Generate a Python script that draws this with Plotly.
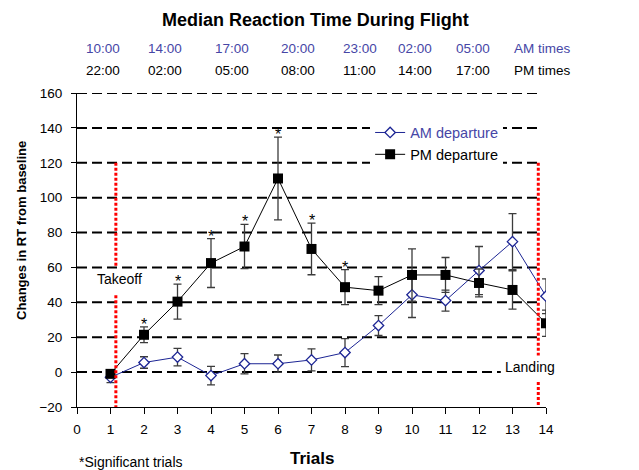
import plotly.graph_objects as go

# trial numbers and median RT change (ms) from baseline
trials = list(range(1, 15))
am_rt = [-3, 5.5, 8.6, -2, 4.8, 4.8, 7, 11.2, 26.7, 44.3, 41, 58.2, 74.8, 43.5]
am_err = [3, 3.3, 5, 5.3, 5.8, 5, 6.3, 8, 5.7, 13, 6, 13.8, 16, 10]
pm_rt = [-1, 21.4, 40.4, 62.5, 72, 111, 70.6, 48.7, 46.7, 55.7, 55.7, 51.1, 47.1, 28]
pm_err = [2, 4.5, 10, 14, 12.7, 23.7, 14.8, 10, 8, 15, 10, 8, 11, 7.5]
sig_trials = [2, 3, 4, 5, 6, 7, 8]

am_times = ["10:00", "14:00", "17:00", "20:00", "23:00", "02:00", "05:00", "AM times"]
pm_times = ["22:00", "02:00", "05:00", "08:00", "11:00", "14:00", "17:00", "PM times"]
time_label_x = [0.79, 2.63, 4.62, 6.60, 8.44, 10.08, 11.81, 13.9]

grid_values = [20, 40, 60, 80, 100, 120, 140, 160]

FONT = "Liberation Sans, Arial, sans-serif"
AM_LINE = "#1C2594"
AM_TEXT = "#4646A6"
ERR_COL = "#3c3c3c"

fig = go.Figure()

fig.add_trace(go.Scatter(
    x=trials, y=am_rt, mode="lines+markers",
    name='<span style="color:%s">AM departure</span>' % AM_TEXT,
    line=dict(color=AM_LINE, width=1),
    marker=dict(symbol="diamond", size=8, color="white", line=dict(color=AM_LINE, width=1.3)),
    error_y=dict(type="data", array=am_err, color=ERR_COL, thickness=1.3, width=4),
))
fig.add_trace(go.Scatter(
    x=trials, y=pm_rt, mode="lines+markers", name="PM departure",
    line=dict(color="black", width=1),
    marker=dict(symbol="square", size=10, color="black"),
    error_y=dict(type="data", array=pm_err, color=ERR_COL, thickness=1.3, width=4),
))

shapes = []
# dashed gridlines (drawn as shapes so they can stop short of the right edge)
for g in grid_values:
    shapes.append(dict(type="line", xref="x", yref="y", x0=0, x1=13.83, y0=g, y1=g,
                       line=dict(color="black", width=2, dash="10px,5px"), layer="below"))
shapes.append(dict(type="line", xref="x", yref="y", x0=0, x1=12.65, y0=0, y1=0,
                   line=dict(color="black", width=2, dash="10px,5px"), layer="below"))

# takeoff / landing markers
red = dict(color="#ff0000", width=3, dash="3px,2px")
for x0, segs in [(1.16, [(120, 60), (44, -20)]), (13.77, [(120, 9.5), (-5.7, -20)])]:
    for a, b in segs:
        shapes.append(dict(type="line", xref="x", yref="y", x0=x0, x1=x0, y0=a, y1=b,
                           line=red, layer="above"))

annotations = []
for i in range(len(am_times)):
    annotations.append(dict(x=time_label_x[i], y=1.141, xref="x", yref="paper", text=am_times[i],
                            xanchor="center", yanchor="middle",
                            showarrow=False, font=dict(size=13.5, color=AM_TEXT)))
    annotations.append(dict(x=time_label_x[i], y=1.072, xref="x", yref="paper", text=pm_times[i],
                            xanchor="center", yanchor="middle",
                            showarrow=False, font=dict(size=13.5, color="black")))

for t in sig_trials:
    annotations.append(dict(x=t, y=pm_rt[t - 1] + pm_err[t - 1], xref="x", yref="y", text="*",
                            showarrow=False, xanchor="center", yanchor="bottom", yshift=-8,
                            font=dict(size=16, color="black")))

annotations += [
    dict(x=0.509, y=1.234, xref="paper", yref="paper", text="<b>Median Reaction Time During Flight</b>",
         showarrow=False, font=dict(size=18, color="black")),
    dict(x=-0.1186, y=0.562, xref="paper", yref="paper", text="<b>Changes in RT from baseline</b>",
         textangle=-90, showarrow=False, font=dict(size=13, color="black")),
    dict(x=0.5, y=-0.165, xref="paper", yref="paper", text="<b>Trials</b>",
         showarrow=False, font=dict(size=17, color="black")),
    dict(x=(131 - 76.7) / 33.57, y=-0.176, xref="x", yref="paper", text="*Significant trials",
         showarrow=False, font=dict(size=14, color="black")),
    dict(x=1.27, y=53.4, xref="x", yref="y", text="Takeoff", showarrow=False,
         font=dict(size=14, color="black")),
    dict(x=13.53, y=3, xref="x", yref="y", text="Landing", showarrow=False,
         font=dict(size=14, color="black")),
]
for a in annotations[-6:]:
    a["xanchor"] = "center"
    a["yanchor"] = "middle"

fig.update_layout(
    width=639, height=470,
    margin=dict(l=77, r=93, t=93, b=63),
    paper_bgcolor="white", plot_bgcolor="white",
    font=dict(family=FONT, size=13, color="black"),
    showlegend=True,
    legend=dict(x=0.625, y=0.925, xanchor="left", yanchor="top", bgcolor="white",
                font=dict(size=14.5, color="black"), tracegroupgap=0),
    xaxis=dict(range=[0, 14], dtick=1, tick0=0, showgrid=False, zeroline=False,
               showline=True, linecolor="black", linewidth=1,
               ticks="outside", ticklen=6, tickcolor="black",
               tickfont=dict(size=13.5), ticklabelstandoff=4),
    yaxis=dict(range=[-20, 160], dtick=20, tick0=-20, showgrid=False, zeroline=False,
               showline=True, linecolor="black", linewidth=1,
               ticks="outside", ticklen=5, tickcolor="black",
               tickfont=dict(size=13.5), ticklabelstandoff=6),
    shapes=shapes,
    annotations=annotations,
)

# drop the default page margin so the figure sits at the window's top-left corner
fig.write_html("out.html", config={"displayModeBar": False},
               post_script="document.body.style.margin='0';")
